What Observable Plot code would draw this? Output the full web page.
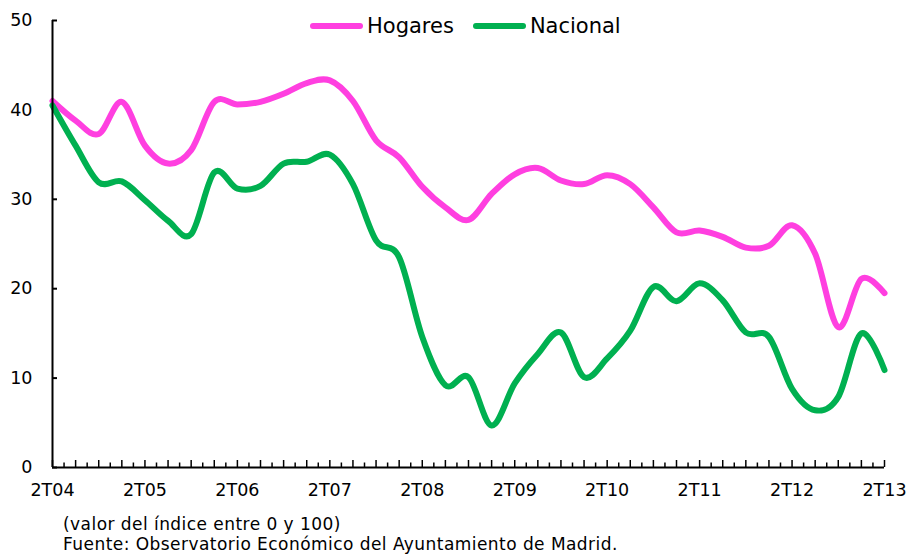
<!DOCTYPE html>
<html>
<head>
<meta charset="utf-8">
<script src="https://cdn.jsdelivr.net/npm/d3@7"></script>
<script src="https://cdn.jsdelivr.net/npm/@observablehq/plot@0.6"></script>
<style>
  html, body { margin: 0; padding: 0; background: #fff; }
  body { width: 908px; height: 554px; position: relative; overflow: hidden; font-family: "DejaVu Sans", Verdana, sans-serif; }
  #chart { position: absolute; left: 0; top: 0; }
  #legend { position: absolute; top: 14px; left: 310px; display: flex; align-items: center; font-size: 21px; color: #000; }
  .item { display: flex; align-items: center; margin-right: 19px; }
  .sw { width: 53px; height: 6px; border-radius: 3px; margin-right: 4px; }
  #caption { position: absolute; left: 63px; top: 514px; font-size: 17px; line-height: 20px; letter-spacing: 0.45px; color: #000; }
</style>
</head>
<body>
<div id="chart"></div>
<div id="legend"></div>
<div id="caption">(valor del índice entre 0 y 100)<br>Fuente: Observatorio Económico del Ayuntamiento de Madrid.</div>
<script>
const quarters = ["2T04","3T04","4T04","1T05","2T05","3T05","4T05","1T06","2T06","3T06","4T06","1T07","2T07","3T07","4T07","1T08","2T08","3T08","4T08","1T09","2T09","3T09","4T09","1T10","2T10","3T10","4T10","1T11","2T11","3T11","4T11","1T12","2T12","3T12","4T12","1T13","2T13"];
const hogares = [41.0, 38.8, 37.3, 40.9, 36.0, 34.0, 35.5, 40.9, 40.6, 40.9, 41.8, 43.0, 43.3, 41.0, 36.6, 34.7, 31.4, 29.1, 27.7, 30.6, 32.8, 33.5, 32.1, 31.7, 32.7, 31.7, 29.1, 26.3, 26.5, 25.8, 24.6, 24.8, 27.1, 23.9, 15.7, 21.1, 19.5];
const nacional = [40.5, 36.0, 31.9, 32.0, 29.9, 27.6, 26.1, 33.0, 31.2, 31.5, 34.0, 34.2, 35.0, 31.7, 25.4, 23.5, 14.6, 9.2, 10.1, 4.7, 9.4, 12.7, 15.1, 10.1, 12.2, 15.3, 20.2, 18.6, 20.6, 18.7, 15.1, 14.6, 8.8, 6.4, 7.9, 15.0, 10.9];
const tickLabels = ["2T04","2T05","2T06","2T07","2T08","2T09","2T10","2T11","2T12","2T13"];
const yTicks = [0, 10, 20, 30, 40, 50];
const seriesNames = ["Hogares", "Nacional"];
const seriesColors = ["#FF3FE0", "#00B050"];

const rows = [];
quarters.forEach((q, i) => {
  rows.push({i, series: "Hogares", value: hogares[i]});
  rows.push({i, series: "Nacional", value: nacional[i]});
});
const idx = quarters.map((q, i) => i);
const labelIdx = tickLabels.map(t => quarters.indexOf(t));
const halfIdx = idx.slice(0, -1).map(i => i + 0.5);

const chart = Plot.plot({
  width: 908,
  height: 500,
  marginLeft: 52,
  marginRight: 24,
  marginTop: 20,
  marginBottom: 33,
  style: {fontFamily: "DejaVu Sans, Verdana, sans-serif", fontSize: "17.5px", color: "#000", background: "#fff"},
  x: {type: "linear", domain: [0, quarters.length - 1]},
  y: {domain: [0, 50]},
  color: {domain: seriesNames, range: seriesColors},
  marks: [
    Plot.axisY({ticks: yTicks, tickSize: 0, tickPadding: 20, label: null, fontSize: 17.5}),
    Plot.axisY({ticks: yTicks, tickSize: -5, tickFormat: () => "", label: null, strokeWidth: 2}),
    Plot.axisX({ticks: labelIdx, tickSize: 0, tickPadding: 16, tickFormat: i => quarters[i], label: null, fontSize: 17.5}),
    Plot.axisX({ticks: idx, tickSize: -7, tickFormat: () => "", label: null, strokeWidth: 1.5}),
    Plot.axisX({ticks: halfIdx, tickSize: -4.5, tickFormat: () => "", label: null, strokeWidth: 1.5}),
    Plot.line(rows, {x: "i", y: "value", z: "series", stroke: "series", strokeWidth: 6, curve: "cardinal", tension: 0, strokeLinecap: "round", strokeLinejoin: "round"}),
    Plot.ruleX([0], {stroke: "#000", strokeWidth: 2}),
    Plot.ruleY([0], {stroke: "#000", strokeWidth: 2})
  ]
});
document.getElementById("chart").appendChild(chart);

const legend = document.getElementById("legend");
seriesNames.forEach((name, k) => {
  const item = document.createElement("div");
  item.className = "item";
  const sw = document.createElement("div");
  sw.className = "sw";
  sw.style.background = seriesColors[k];
  const tx = document.createElement("span");
  tx.textContent = name;
  item.appendChild(sw);
  item.appendChild(tx);
  legend.appendChild(item);
});
</script>
</body>
</html>
